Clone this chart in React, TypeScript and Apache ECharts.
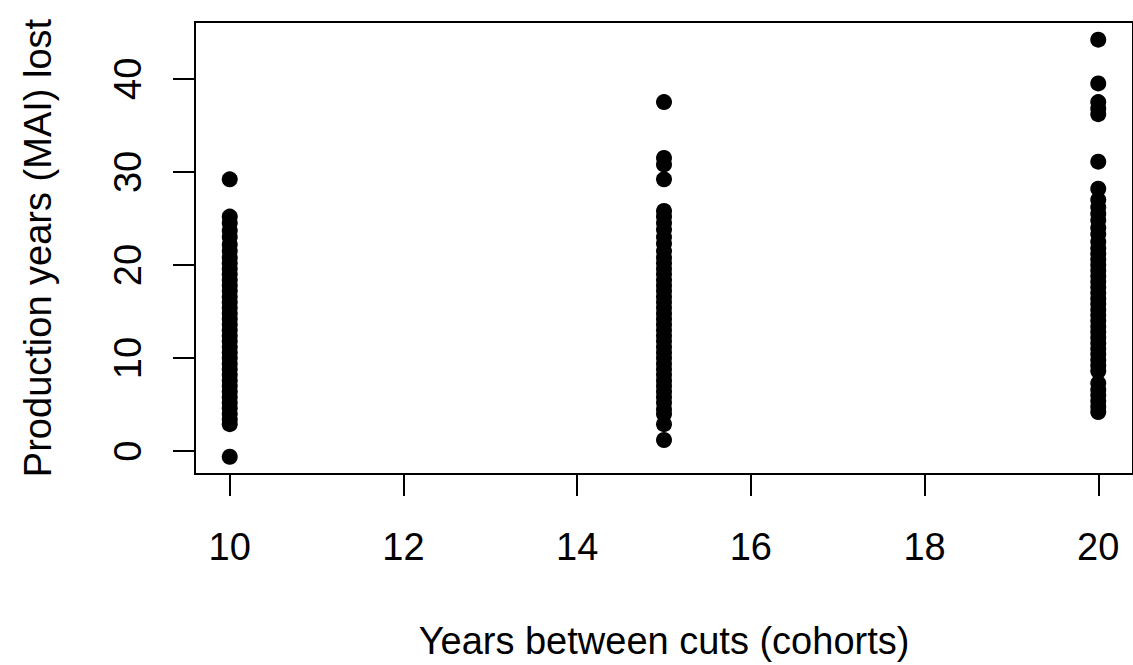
import React, { useEffect, useRef } from "react";
import * as echarts from "echarts";

const cohortYears = [10, 15, 20];

const lost10 = [29.2, 25.2, 24.5, 23.7, 23.0, 22.2, 21.5, 20.8, 20.2, 19.6, 19.0, 18.4, 17.8, 17.2, 16.6, 16.0, 15.4, 14.8, 14.2, 13.6, 13.0, 12.4, 11.8, 11.2, 10.6, 10.0, 9.4, 8.8, 8.2, 7.6, 7.0, 6.4, 5.8, 5.2, 4.6, 4.0, 3.4, 2.9, -0.6];

const lost15 = [37.5, 31.5, 30.8, 29.2, 25.8, 25.2, 24.5, 23.8, 23.0, 22.3, 21.5, 20.8, 20.2, 19.6, 19.0, 18.4, 17.8, 17.2, 16.6, 16.0, 15.4, 14.8, 14.2, 13.6, 13.0, 12.4, 11.8, 11.2, 10.6, 10.0, 9.4, 8.8, 8.2, 7.6, 7.0, 6.4, 5.8, 5.2, 4.5, 4.0, 2.9, 1.2];

const lost20 = [44.2, 39.5, 37.5, 36.8, 36.2, 31.1, 28.2, 27.0, 26.2, 25.5, 24.8, 24.0, 23.3, 22.5, 21.8, 21.2, 20.6, 20.0, 19.4, 18.8, 18.2, 17.6, 17.0, 16.4, 15.8, 15.2, 14.6, 14.0, 13.4, 12.8, 12.2, 11.6, 11.0, 10.4, 9.8, 9.2, 8.6, 7.3, 6.6, 6.0, 5.4, 4.8, 4.2];

const xTicks = [10, 12, 14, 16, 18, 20];
const yTicks = [0, 10, 20, 30, 40];

const FONT = "'Liberation Sans', Arial, sans-serif";

export default function App() {
  const ref = useRef<HTMLDivElement>(null);

  useEffect(() => {
    if (!ref.current) return;
    const chart = echarts.init(ref.current, null, { renderer: "svg" });
    const groups = [lost10, lost15, lost20];
    const points: number[][] = [];
    groups.forEach((vals, i) => {
      vals.forEach((v) => points.push([cohortYears[i], v]));
    });

    chart.setOption({
      animation: false,
      backgroundColor: "#ffffff",
      grid: {
        left: 195,
        top: 22,
        width: 941,
        height: 455,
        show: true,
        borderColor: "#000",
        borderWidth: 2,
        backgroundColor: "transparent",
      },
      xAxis: {
        type: "value",
        min: 9.6,
        max: 20.4,
        name: "Years between cuts (cohorts)",
        nameLocation: "middle",
        nameGap: 148,
        nameTextStyle: { color: "#000", fontFamily: FONT, fontSize: 38, lineHeight: 38 },
        axisLine: { show: false, onZero: false },
        splitLine: { show: false },
        axisTick: {
          show: true,
          inside: false,
          length: 22,
          customValues: xTicks,
          lineStyle: { color: "#000", width: 2 },
        },
        axisLabel: {
          show: true,
          customValues: xTicks,
          margin: 54,
          color: "#000",
          fontFamily: FONT,
          fontSize: 38,
          lineHeight: 38,
        },
      },
      yAxis: {
        type: "value",
        min: -2.45,
        max: 46.1,
        name: "Production years (MAI) lost",
        nameLocation: "middle",
        nameRotate: 90,
        nameGap: 138,
        nameTextStyle: { color: "#000", fontFamily: FONT, fontSize: 38, lineHeight: 38 },
        axisLine: { show: false, onZero: false },
        splitLine: { show: false },
        axisTick: {
          show: true,
          inside: false,
          length: 22,
          customValues: yTicks,
          lineStyle: { color: "#000", width: 2 },
        },
        axisLabel: {
          show: true,
          customValues: yTicks,
          rotate: 90,
          margin: 48,
          color: "#000",
          fontFamily: FONT,
          fontSize: 38,
          lineHeight: 38,
        },
      },
      series: [
        {
          type: "scatter",
          data: points,
          symbol: "circle",
          symbolSize: 16,
          itemStyle: { color: "#000", opacity: 1 },
          emphasis: { disabled: true },
        },
      ],
    });

    return () => chart.dispose();
  }, []);

  return (
    <div
      ref={ref}
      style={{ position: "absolute", left: 0, top: 0, width: 1133, height: 665 }}
    />
  );
}
